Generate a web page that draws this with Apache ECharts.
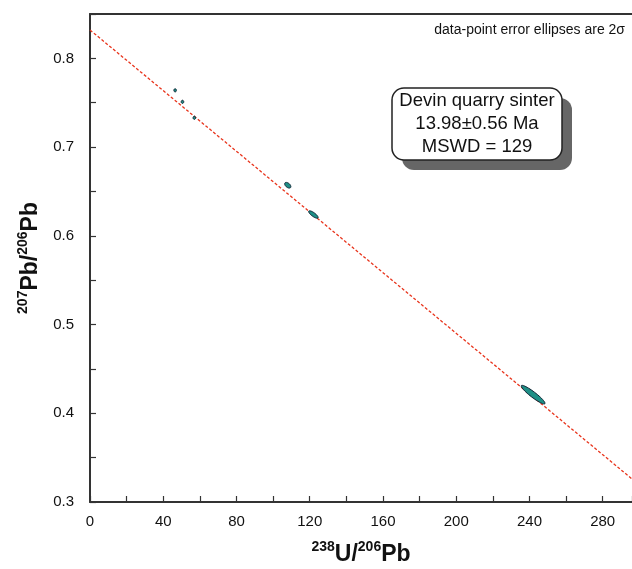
<!DOCTYPE html>
<html>
<head>
<meta charset="utf-8">
<script src="https://cdn.jsdelivr.net/npm/echarts@6/dist/echarts.min.js"></script>
<style>html,body{margin:0;padding:0;background:#fff}#c{width:632px;height:569px}</style>
</head>
<body>
<div id="c"></div>
<script>
// Data
const ptX   = [46.5, 50.5, 57, 108, 122, 242];          // 238U/206Pb
const ptY   = [0.764, 0.751, 0.733, 0.657, 0.624, 0.421]; // 207Pb/206Pb
const errX  = [0.7, 0.7, 0.7, 1.7, 2.6, 6.5];            // 2σ x
const errY  = [0.0018, 0.0018, 0.0018, 0.0032, 0.0042, 0.0105]; // 2σ y
const rho   = [0, 0, 0, -0.5, -0.8, -0.93];
const lineX = [0, 296];
const lineY = [0.832, 0.326];
const xTicks = [0, 40, 80, 120, 160, 200, 240, 280];
const yTicks = [0.3, 0.4, 0.5, 0.6, 0.7, 0.8];
const boxLines = ['Devin quarry sinter', '13.98±0.56 Ma', 'MSWD = 129'];
const note = 'data-point error ellipses are 2σ';

const FONT = '"Liberation Sans", Arial, Helvetica, sans-serif';
const chart = echarts.init(document.getElementById('c'), null, {renderer: 'canvas'});

const ellipseData = ptX.map((x, i) => [x, ptY[i], errX[i], errY[i], rho[i]]);

function renderEllipse(params, api) {
  const cx = api.value(0), cy = api.value(1), ex = api.value(2), ey = api.value(3), r = api.value(4);
  const pts = [];
  const s = Math.sqrt(1 - r * r);
  for (let k = 0; k < 48; k++) {
    const t = k / 48 * Math.PI * 2;
    const dx = ex * Math.cos(t);
    const dy = ey * (r * Math.cos(t) + s * Math.sin(t));
    pts.push(api.coord([cx + dx, cy + dy]));
  }
  return {
    type: 'polygon',
    shape: {points: pts},
    style: {fill: '#1f8f86', stroke: '#0f2233', lineWidth: 1}
  };
}

const titleRich = {
  sup: {fontSize: 14, fontWeight: 'bold', color: '#111', fontFamily: FONT, verticalAlign: 'top', lineHeight: 26, padding: [0, 0, 11, 0]},
  b: {fontSize: 23, fontWeight: 'bold', color: '#111', fontFamily: FONT, verticalAlign: 'bottom', lineHeight: 26}
};

const option = {
  animation: false,
  backgroundColor: '#fff',
  grid: {left: 90, right: 0, top: 14, bottom: 67, containLabel: false, outerBoundsMode: 'none'},
  xAxis: [{
    type: 'value', min: 0, max: 296, interval: 40,
    axisLine: {show: true, onZero: false, lineStyle: {color: '#333', width: 2}},
    axisTick: {show: true, inside: true, length: 6, lineStyle: {color: '#333', width: 1.2}},
    minorTick: {show: true, splitNumber: 2, length: 6, lineStyle: {color: '#333', width: 1.2}},
    axisLabel: {show: true, showMaxLabel: false, fontSize: 15, color: '#111', fontFamily: FONT, margin: 12,
      formatter: v => xTicks.indexOf(v) >= 0 ? String(v) : ''},
    splitLine: {show: false},
    name: '{sup|238}{b|U/}{sup|206}{b|Pb}',
    nameLocation: 'middle', nameGap: 38,
    nameTextStyle: {fontFamily: FONT, rich: titleRich}
  }, {
    type: 'value', position: 'top', min: 0, max: 296,
    axisLine: {show: true, onZero: false, lineStyle: {color: '#333', width: 2}},
    axisTick: {show: false}, axisLabel: {show: false}, splitLine: {show: false}
  }],
  yAxis: {
    type: 'value', min: 0.3, max: 0.85, interval: 0.1,
    axisLine: {show: true, onZero: false, lineStyle: {color: '#333', width: 2}},
    axisTick: {show: true, inside: true, length: 6, lineStyle: {color: '#333', width: 1.2}},
    minorTick: {show: true, splitNumber: 2, length: 6, lineStyle: {color: '#333', width: 1.2}},
    axisLabel: {show: true, showMaxLabel: false, fontSize: 15, color: '#111', fontFamily: FONT, margin: 16,
      formatter: v => { const f = yTicks.find(t => Math.abs(t - v) < 1e-9); return f !== undefined ? f.toFixed(1) : ''; }},
    splitLine: {show: false},
    name: '{sup|207}{b|Pb/}{sup|206}{b|Pb}',
    nameLocation: 'middle', nameGap: 46, nameRotate: 90,
    nameTextStyle: {fontFamily: FONT, rich: titleRich}
  },
  series: [{
    type: 'line',
    data: lineX.map((x, i) => [x, lineY[i]]),
    symbol: 'none',
    lineStyle: {color: '#e8341c', width: 1.3, type: [3, 2]},
    z: 2
  }, {
    type: 'custom',
    renderItem: renderEllipse,
    data: ellipseData,
    encode: {x: 0, y: 1},
    z: 3
  }],
  graphic: [
    {type: 'text', x: 625, y: 30, style: {text: note, fontSize: 14, fontFamily: FONT, fill: '#111', align: 'right', verticalAlign: 'middle'}},
    {type: 'rect', x: 402, y: 98, shape: {width: 170, height: 72, r: 12}, style: {fill: '#666'}, z: 10},
    {type: 'rect', x: 392, y: 88, shape: {width: 170, height: 72, r: 12}, style: {fill: '#fff', stroke: '#222', lineWidth: 1.5}, z: 11},
    {type: 'text', x: 477, y: 124, z: 12,
      style: {text: boxLines.join('\n'), align: 'center', verticalAlign: 'middle', fontSize: 18.5, lineHeight: 23, fontFamily: FONT, fill: '#111'}}
  ]
};
chart.setOption(option);
</script>
</body>
</html>
